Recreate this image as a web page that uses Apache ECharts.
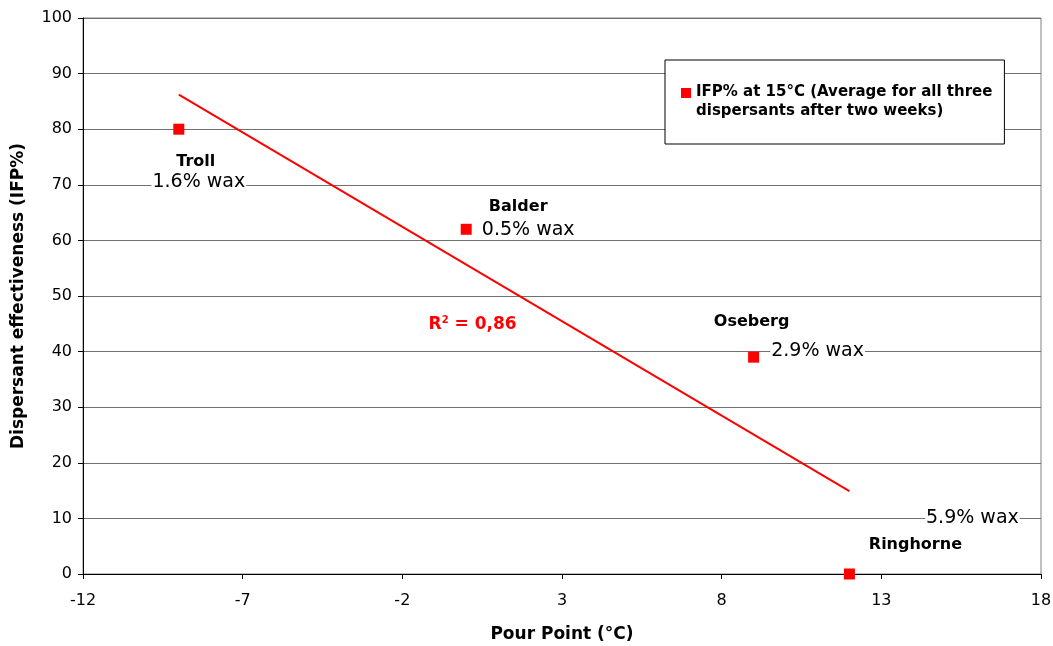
<!DOCTYPE html>
<html>
<head>
<meta charset="utf-8">
<script src="https://cdn.jsdelivr.net/npm/echarts@6/dist/echarts.min.js"></script>
<style>
  html, body { margin: 0; padding: 0; background: #fff; }
  #chart { width: 1053px; height: 646px; }
</style>
</head>
<body>
<div id="chart"></div>
<script>
  // oil fields, pour point (°C) vs IFP%
  var fields = ['Troll', 'Balder', 'Oseberg', 'Ringhorne']
  var waxLabels = ['1.6% wax', '0.5% wax', '2.9% wax', '5.9% wax']
  var pourPoint = [-9, 0, 9, 12]
  var ifp = [80, 62, 39, 0]
  // linear trendline end points
  var trendX = [-9, 12]
  var trendY = [86.2, 14.9]

  // label offsets (px) from the marker
  var nameOffsets = [[17, 33], [52, -22], [-2, -35], [66, -29]]
  var waxOffsets = [[20, 53], [62, 1], [64, -6], [123, -56]]

  var pts = pourPoint.map(function (x, i) { return [x, ifp[i]] })
  var trend = trendX.map(function (x, i) { return [x, trendY[i]] })

  var legendName = 'IFP% at 15°C (Average for all three\ndispersants after two weeks)'
  var font = 'DejaVu Sans, Arial, sans-serif'

  var myChart = echarts.init(document.getElementById('chart'))

  var option = {
    animation: false,
    textStyle: { fontFamily: font },
    grid: {
      left: 83, right: 12, top: 18, bottom: 72,
      outerBoundsMode: 'none',
      show: true, borderColor: '#808080', borderWidth: 1
    },
    legend: {
      left: 665, top: 60,
      orient: 'vertical',
      // square sits on the first text line
      data: [{ name: legendName, icon: 'path://M0,0L10,0L10,10L0,10Z M0,28L0.01,28' }],
      itemWidth: 10, itemHeight: 28,
      backgroundColor: '#fff',
      borderColor: '#000', borderWidth: 1,
      padding: [23, 12, 23, 16],
      textStyle: { fontFamily: font, fontSize: 15, fontWeight: 'bold', color: '#000', lineHeight: 19 }
    },
    xAxis: {
      type: 'value',
      min: -12, max: 18, interval: 5,
      name: 'Pour Point (°C)',
      nameLocation: 'middle',
      nameGap: 52,
      nameTextStyle: { fontFamily: font, fontSize: 17, fontWeight: 'bold', color: '#000' },
      axisLine: { show: true, onZero: false, lineStyle: { color: '#000', width: 1 } },
      axisTick: { show: true, inside: false, length: 5, lineStyle: { color: '#000' } },
      axisLabel: { fontFamily: font, fontSize: 16, color: '#000', margin: 19 },
      splitLine: { show: false }
    },
    yAxis: {
      type: 'value',
      min: 0, max: 100, interval: 10,
      name: 'Dispersant effectiveness (IFP%)',
      nameLocation: 'middle',
      nameGap: 56,
      nameTextStyle: { fontFamily: font, fontSize: 17, fontWeight: 'bold', color: '#000' },
      axisLine: { show: true, onZero: false, lineStyle: { color: '#000', width: 1 } },
      axisTick: { show: true, inside: false, length: 5, lineStyle: { color: '#000' } },
      axisLabel: { fontFamily: font, fontSize: 16, color: '#000', margin: 11 },
      splitLine: { show: true, lineStyle: { color: '#707070', width: 1 } }
    },
    series: [
      {
        name: 'trend',
        type: 'line',
        data: trend,
        symbol: 'none',
        z: 3,
        lineStyle: { color: '#ff0000', width: 2 },
        markPoint: {
          symbol: 'circle',
          symbolSize: 1,
          itemStyle: { color: 'rgba(0,0,0,0)' },
          data: [{ coord: [0.2, 44.8] }],
          label: {
            show: true,
            position: 'inside',
            formatter: '{a|R}{s|2}{a| = 0,86}',
            rich: {
              a: { fontFamily: font, fontSize: 17, fontWeight: 'bold', color: '#ff0000' },
              s: { fontFamily: font, fontSize: 10, fontWeight: 'bold', color: '#ff0000', padding: [0, 0, 10, 0] }
            }
          }
        }
      },
      {
        // wax labels, white box covers the grid line
        type: 'scatter',
        data: pts,
        symbolSize: 0,
        z: 4,
        itemStyle: { opacity: 1 },
        label: {
          show: true,
          position: 'inside',
          formatter: function (p) { return waxLabels[p.dataIndex] },
          fontFamily: font, fontSize: 19, color: '#000',
          backgroundColor: '#fff',
          padding: [0, 1]
        },
        labelLayout: function (p) {
          var o = waxOffsets[p.dataIndex]
          return { dx: o[0], dy: o[1] }
        }
      },
      {
        // field names
        type: 'scatter',
        data: pts,
        symbolSize: 0,
        z: 4,
        itemStyle: { opacity: 1 },
        label: {
          show: true,
          position: 'inside',
          formatter: function (p) { return fields[p.dataIndex] },
          fontFamily: font, fontSize: 16, fontWeight: 'bold', color: '#000'
        },
        labelLayout: function (p) {
          var o = nameOffsets[p.dataIndex]
          return { dx: o[0], dy: o[1] }
        }
      },
      {
        name: legendName,
        type: 'scatter',
        data: pts,
        symbol: 'rect',
        symbolSize: 11,
        z: 5,
        itemStyle: { color: '#ff0000', opacity: 1 }
      }
    ]
  }
  myChart.setOption(option)
</script>
</body>
</html>
